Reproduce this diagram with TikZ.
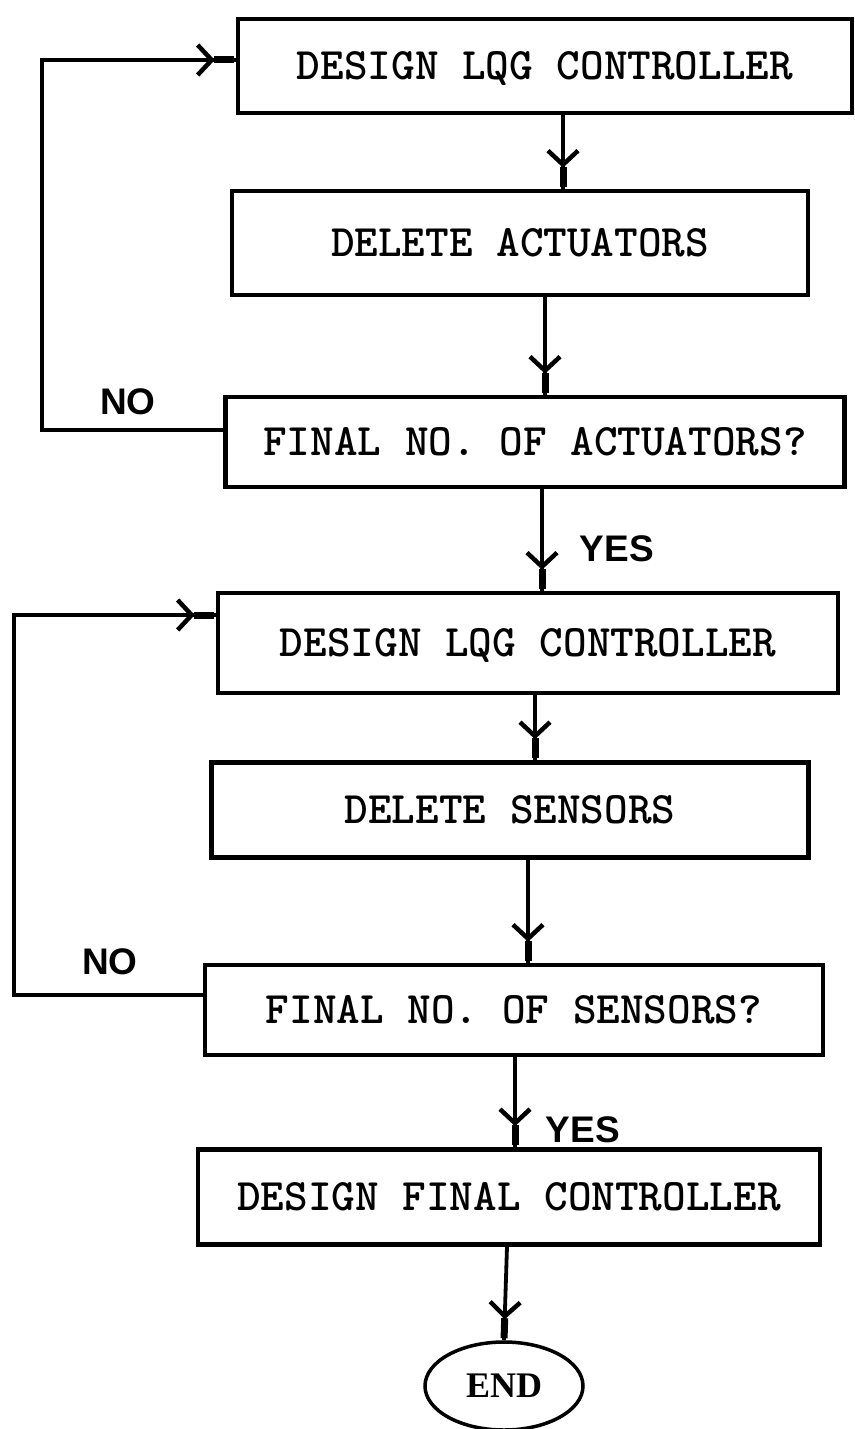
\documentclass[tikz,border=0pt]{standalone}
\usepackage{fontspec}
\usetikzlibrary{arrows.meta,decorations.markings,shapes.geometric}
\newfontfamily\handfont{Liberation Sans}
\newfontfamily\endfont{Liberation Serif}
\newfontfamily\typefont[Extension=.otf]{lmmonolt10-bold}
\newcommand\typewriter{\typefont\fontsize{45}{47}\selectfont}
\begin{document}
\begin{tikzpicture}[x=1pt,y=-1pt,
  stepbox/.style={draw, line width=4.5pt, inner sep=0pt,
    font=\typewriter, text height=27pt, text depth=1pt},
  answer/.style={font=\handfont\bfseries\fontsize{37}{39}\selectfont, inner sep=0pt},
  terminal/.style={draw, ellipse, line width=3.5pt, inner sep=0pt,
    font=\endfont\bfseries\fontsize{36}{38}\selectfont},
  flow/.style={line width=3.8pt, postaction={decorate},
    decoration={markings,
      mark=at position -21pt with {\arrow[line width=4.5pt]{Straight Barb[length=14pt,width=30pt]}},
      mark=at position -2pt with {\arrow{Rectangle[length=20pt,width=7pt]}}}}
]
\useasboundingbox (0,0) rectangle (854,1429);

% process boxes
\node[stepbox, minimum width=614, minimum height=94] (b1) at (545,66)  {DESIGN LQG CONTROLLER};
\node[stepbox, minimum width=576, minimum height=104] (b2) at (520,243) {DELETE ACTUATORS};
\node[stepbox, minimum width=619, minimum height=90] (b3) at (535,442) {FINAL NO. OF ACTUATORS?};
\node[stepbox, minimum width=620, minimum height=100] (b4) at (528,643) {DESIGN LQG CONTROLLER};
\node[stepbox, minimum width=597, minimum height=95] (b5) at (510,810) {DELETE SENSORS};
\node[stepbox, minimum width=618, minimum height=90] (b6) at (514,1010) {FINAL NO. OF SENSORS?};
\node[stepbox, minimum width=622, minimum height=95] (b7) at (509,1197) {DESIGN FINAL CONTROLLER};
\node[terminal, minimum width=158, minimum height=88] (fin) at (504,1386) {END};

% branch labels
\node[answer] (no1)  at (128,402)  {NO};
\node[answer] (yes1) at (617,549)  {YES};
\node[answer] (no2)  at (110,962)  {NO};
\node[answer] (yes2) at (583,1130) {YES};

% columns of the downward connectors
\coordinate (c1) at (563,0);
\coordinate (c2) at (545,0);
\coordinate (c3) at (542,0);
\coordinate (c4) at (535,0);
\coordinate (c5) at (528,0);
\coordinate (c6) at (515,0);
\coordinate (c7) at (507,0);

\draw[flow] (b1.south -| c1) -- (b2.north -| c1);
\draw[flow] (b2.south -| c2) -- (b3.north -| c2);
\draw[flow] (b3.south -| c3) -- (b4.north -| c3);
\draw[flow] (b4.south -| c4) -- (b5.north -| c4);
\draw[flow] (b5.south -| c5) -- (b6.north -| c5);
\draw[flow] (b6.south -| c6) -- (b7.north -| c6);
\draw[flow] (b7.south -| c7) -- (fin.north);

% feedback loops
\coordinate (l1a) at (42,430);
\coordinate (l1b) at (42,60);
\coordinate (l2a) at (14,995);
\coordinate (l2b) at (14,615);
\draw[flow] (b3.west |- l1a) -- (l1a) -- (l1b) -- (b1.west |- l1b);
\draw[flow] (b6.west |- l2a) -- (l2a) -- (l2b) -- (b4.west |- l2b);
\end{tikzpicture}
\end{document}
